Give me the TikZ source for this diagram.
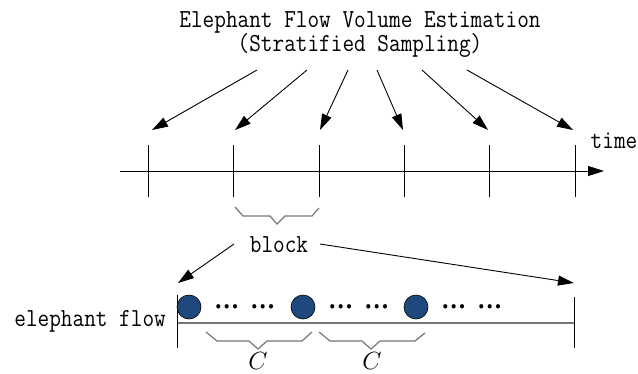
\documentclass[tikz,border=0pt]{standalone}
\usepackage{fontspec}
\usepackage{xcolor}
\usepackage{tikz}
\usetikzlibrary{arrows.meta}
\setmonofont[FakeStretch=0.87]{Latin Modern Mono}
\newfontfamily\dotfont{Noto Sans}
\definecolor{pktblue}{RGB}{31,73,125}
\definecolor{bracegray}{RGB}{118,118,118}

\begin{document}
\begin{tikzpicture}[x=1pt, y=-1pt,
    lbl/.style={inner sep=0, anchor=base, font=\ttfamily\fontsize{26}{21}\selectfont},
    arr/.style={-{Triangle[length=16pt,width=10pt]}, line width=0.9pt},
    pkt/.style={draw, circle, fill=pktblue, minimum size=24pt, inner sep=0, line width=0.6pt},
    dots/.style={inner sep=0, font=\dotfont\bfseries\fontsize{32}{32}\selectfont},
    clbl/.style={inner sep=0, anchor=base, font=\fontsize{25}{25}\selectfont},
    brc/.style={draw=bracegray, line width=1.2pt}]
    \useasboundingbox (0,0) rectangle (638,373);

    \node[lbl, align=center, anchor=north] (title) at (360,11) {Elephant Flow Volume Estimation\\(Stratified Sampling)};

    \coordinate (tstart) at (120,171);
    \coordinate (tend) at (604,171);
    \draw[arr] (tstart) -- (tend);
    \node[lbl] (timelbl) at (614,148) {time};

    \foreach \x [count=\i] in {148,233,319,404,489,575}
        \draw[line width=0.9pt] (\x,145) -- (\x,197);

    \foreach \s/\t [count=\i] in {257/152,307/235,348/320,377/403,422/488,467/573} {
        \coordinate (src\i) at (\s,70);
        \coordinate (dst\i) at (\t,130);
        \draw[arr] (src\i) -- (dst\i);
    }

    \draw[brc] (235,207) -- (243,216) -- (270,216) -- (277,224) -- (285,216) -- (312,216) -- (319,208);
    \node[lbl] (blocklbl) at (279,252) {block};

    \coordinate (bleft) at (178,283);
    \coordinate (bright) at (574,283);
    \draw[arr] (234,244) -- (bleft);
    \draw[arr] (320,244) -- (bright);

    \node[lbl, anchor=base east] (flowlbl) at (166,326) {elephant flow};
    \coordinate (fstart) at (177,323);
    \coordinate (fend) at (574,323);
    \draw[draw=bracegray, line width=1.8pt] (fstart) -- (fend);
    \draw[line width=0.9pt] (177,295) -- (177,348);
    \draw[line width=0.9pt] (574,297) -- (574,348);

    \foreach \c [count=\i] in {189,303,416} {
        \node[pkt] (pkt\i) at (\c,307) {};
        \node[dots] (dotsa\i) at (\c+38,307) {…};
        \node[dots] (dotsb\i) at (\c+74,307) {…};
    }

    \draw[brc] (206,332) -- (217,341) -- (249,341) -- (258,349) -- (267,341) -- (302,341) -- (312,332);
    \draw[brc] (319,332) -- (330,341) -- (362,341) -- (371,349) -- (380,341) -- (415,341) -- (425,333);
    \node[clbl] (clbl1) at (258,369) {$C$};
    \node[clbl] (clbl2) at (372,369) {$C$};
\end{tikzpicture}
\end{document}
